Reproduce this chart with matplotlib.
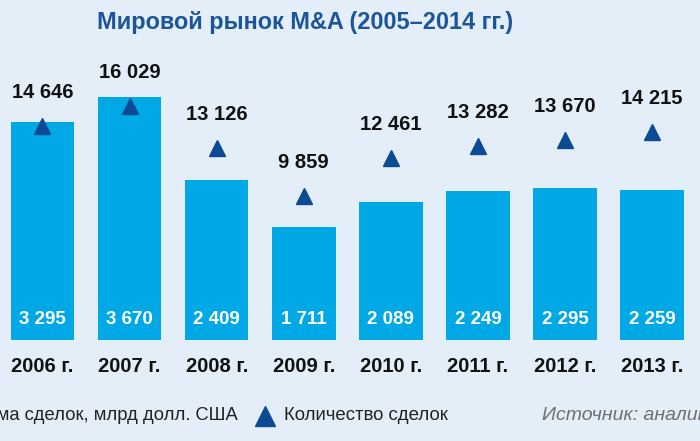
import matplotlib
matplotlib.use("Agg")
import matplotlib.pyplot as plt
from matplotlib import font_manager

# Data
years = ["2006 г.", "2007 г.", "2008 г.", "2009 г.", "2010 г.", "2011 г.", "2012 г.", "2013 г."]
deal_value = [3295, 3670, 2409, 1711, 2089, 2249, 2295, 2259]      # млрд долл. США
deal_count = [14646, 16029, 13126, 9859, 12461, 13282, 13670, 14215]

BG = "#e4eef9"
BAR = "#00a8e6"
TRI = "#0c4b93"
TITLE = "#1c5599"

names = {f.name for f in font_manager.fontManager.ttflist}
narrow = "Liberation Sans Narrow" if "Liberation Sans Narrow" in names else "Liberation Sans"
regular = "Liberation Sans"


def fmt(v):
    return f"{v:,}".replace(",", " ")


W, H = 700, 441
fig = plt.figure(figsize=(W / 100, H / 100), dpi=100)
fig.patch.set_facecolor(BG)

ax = fig.add_axes([0, 0, 1, 1])
ax.set_facecolor(BG)
ax.axis("off")

base_px = 340  # baseline, pixels from top
k1 = 243 / 3670   # px per unit (bars)
k2 = 234 / 16029  # px per unit (triangles)

x = list(range(len(years)))
step = 87.1
x0 = 42.5
ax.set_xlim(-x0 / step, (W - x0) / step)
ax.set_ylim(-(H - base_px) / k1, base_px / k1)

ax.bar(x, deal_value, width=0.73, color=BAR, zorder=2)

ax2 = ax.twinx()
ax2.axis("off")
ax2.set_ylim(-(H - base_px) / k2, base_px / k2)
ax2.plot(x, deal_count, linestyle="none", marker="^", markersize=11,
         color=TRI, zorder=3)

if narrow != regular:
    ns, vs = 17, 16
else:
    ns, vs = 14.5, 13.5
for xi, c in zip(x, deal_count):
    ax2.annotate(fmt(c), (xi, c), xytext=(0, 34 * 0.72), textcoords="offset points",
                 ha="center", va="center", fontsize=ns, fontweight="bold",
                 family=narrow, color="#111111")

for xi, v, yl in zip(x, deal_value, years):
    ax.annotate(fmt(v), (xi, 0), xytext=(0, 21 * 0.72), textcoords="offset points",
                ha="center", va="center", fontsize=vs, fontweight="bold",
                family=narrow, color="white", zorder=4)
    ax.annotate(yl, (xi, 0), xytext=(0, -27 * 0.72), textcoords="offset points",
                ha="center", va="center", fontsize=ns, fontweight="bold",
                family=narrow, color="#111111")

# Title
fig.text(97 / W, 1 - 23 / H, "Мировой рынок M&A (2005–2014 гг.)", ha="left",
         va="center", fontsize=16.9, fontweight="bold", family=regular, color=TITLE)

# Legend (left part cut off by the frame, as in the source image)
ly = 1 - 416 / H
fig.text(238 / W, ly, "Сумма сделок, млрд долл. США", ha="right", va="center",
         fontsize=13.2, family=regular, color="#222222")
fig.lines.append(plt.Line2D([265 / W], [ly], transform=fig.transFigure,
                            marker="^", markersize=14, color=TRI, linestyle="none"))
fig.text(284 / W, ly, "Количество сделок", ha="left", va="center",
         fontsize=13.4, family=regular, color="#222222")
fig.text(542 / W, ly, "Источник: аналитика", ha="left", va="center",
         fontsize=14, family=regular, style="italic", color="#707070")

fig.savefig("out.png", dpi=100, facecolor=BG)
